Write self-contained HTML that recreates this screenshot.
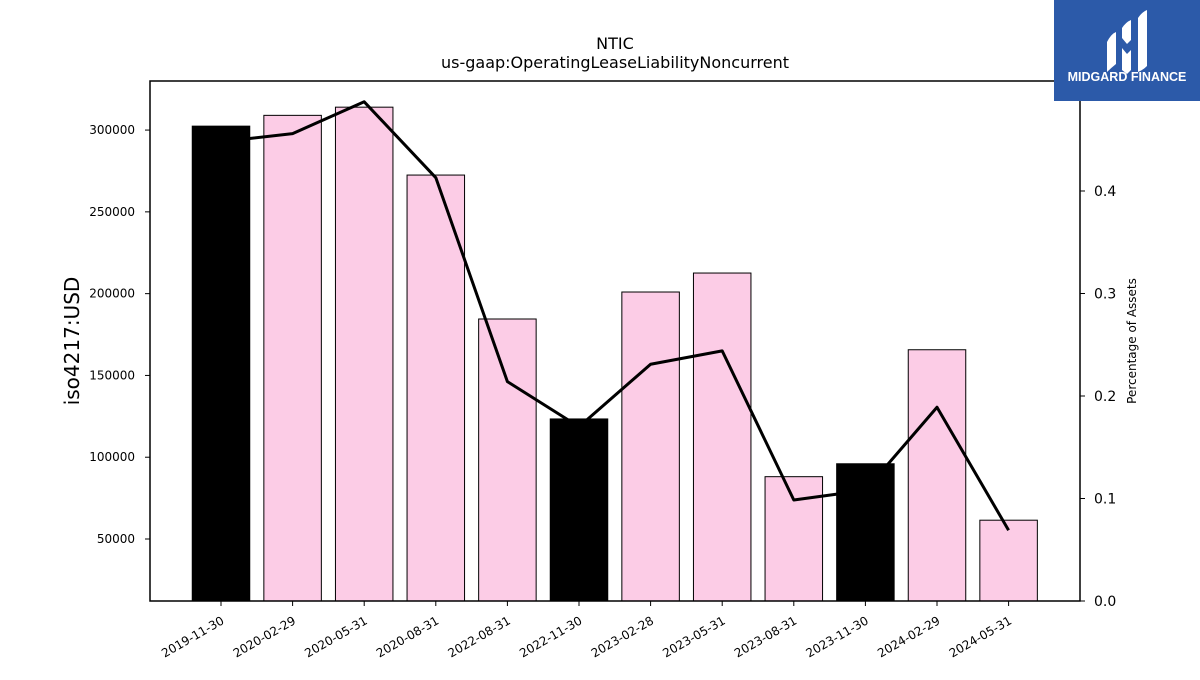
<!DOCTYPE html>
<html><head><meta charset="utf-8"><style>
body{margin:0;background:#fff;width:1200px;height:675px;overflow:hidden;font-family:"Liberation Sans","DejaVu Sans",sans-serif}
</style></head><body>
<svg id="chart" width="1200" height="675" xmlns="http://www.w3.org/2000/svg" font-family="DejaVu Sans, Liberation Sans, sans-serif">
<text x="615" y="49" text-anchor="middle" font-size="16">NTIC</text>
<text x="615" y="68" text-anchor="middle" font-size="16">us-gaap:OperatingLeaseLiabilityNoncurrent</text>
<g id="bars"></g>
<g id="line"></g>
<g id="axes"></g>
<rect x="150" y="81" width="930" height="520" fill="none" stroke="#000" stroke-width="1.5"/>
<text transform="translate(79,341) rotate(-90)" text-anchor="middle" font-size="20">iso4217:USD</text>
<text transform="translate(1136,341) rotate(-90)" text-anchor="middle" font-size="12">Percentage of Assets</text>
<g>
<rect x="1054" y="0" width="146" height="101" fill="#2c5aa9"/>
<path d="M1107 42 q4-8 9-10 v32 q-5 4-9 8z M1122 28 q4-6 9-8 v20 l-4 4 -5-6z M1122 48 l5 6 4-4 v20 l-4 4 -5-4z M1138 18 q4-6 9-8 v56 q-4 4-9 6z" fill="#fff"/>
<text x="1127" y="81" text-anchor="middle" font-size="12.5" font-weight="bold" fill="#fff" font-family="Liberation Sans, sans-serif">MIDGARD FINANCE</text>
</g>
</svg>
<script>
const categories=["2019-11-30","2020-02-29","2020-05-31","2020-08-31","2022-08-31","2022-11-30","2023-02-28","2023-05-31","2023-08-31","2023-11-30","2024-02-29","2024-05-31"];
const values=[302400,309000,314000,272500,184500,123400,201000,212600,88100,96000,165700,61500];
const highlight=[1,0,0,0,0,1,0,0,0,1,0,0];
const pct=[0.448,0.456,0.487,0.413,0.214,0.170,0.231,0.244,0.0985,0.108,0.189,0.069];
const leftTicks=[50000,100000,150000,200000,250000,300000];
const rightTicks=[0.0,0.1,0.2,0.3,0.4];
const NS="http://www.w3.org/2000/svg";
const L=150,R=1080,T=81,B=601;
const yMin=12100,yMax=330000,pMax=0.5073;
const step=(R-L)/ (categories.length+0.5);
const x=i=>221+i*71.6;
const y=v=>B-(v-yMin)/(yMax-yMin)*(B-T);
const yp=v=>B-v/pMax*(B-T);
const bw=57.5;
function mk(t,a,p){const e=document.createElementNS(NS,t);for(const k in a)e.setAttribute(k,a[k]);p.appendChild(e);return e;}
const gb=document.getElementById('bars'),gl=document.getElementById('line'),ga=document.getElementById('axes');
values.forEach((v,i)=>{
 const r=mk('rect',{x:x(i)-bw/2,y:y(v),width:bw,height:B-y(v),fill:highlight[i]?'#000':'#fccce6',stroke:'#000','stroke-width':1},gb);
 
 
});
const pl=mk('polyline',{points:pct.map((p,i)=>x(i)+','+yp(p)).join(' '),fill:'none',stroke:'#000','stroke-width':3,'stroke-linejoin':'round'},gl);


categories.forEach((c,i)=>{
 mk('line',{x1:x(i),x2:x(i),y1:B,y2:B+5,stroke:'#000'},ga);
 const t=mk('text',{transform:`translate(${x(i)+4},${B+22}) rotate(-30)`,'text-anchor':'end','font-size':12},ga);
 t.textContent=c;
 
 
});
leftTicks.forEach(v=>{
 mk('line',{x1:L-5,x2:L,y1:y(v),y2:y(v),stroke:'#000'},ga);
 const t=mk('text',{x:L-15,y:y(v)+4,'text-anchor':'end','font-size':12},ga);
 t.textContent=v;
 
 
});
rightTicks.forEach(v=>{
 mk('line',{x1:R,x2:R+5,y1:yp(v),y2:yp(v),stroke:'#000'},ga);
 const t=mk('text',{x:R+14,y:yp(v)+5,'font-size':14},ga);
 t.textContent=v.toFixed(1);
 
 
});
</script>
</body></html>
